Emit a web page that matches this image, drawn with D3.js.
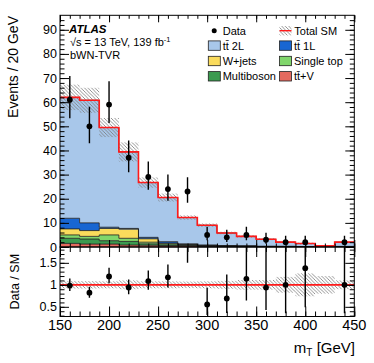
<!DOCTYPE html>
<html lang="en">
<head>
<meta charset="utf-8">
<title>bWN-TVR mT</title>
<script src="https://d3js.org/d3.v7.min.js"></script>
<style>
    body { margin: 0; background: white; }
    text { font-family: "Liberation Sans", Arial, Helvetica, sans-serif; fill: black; }
</style>
</head>
<body>
<script>

// ---- values ----
var binLow = [150, 170, 190, 210, 230, 250, 270, 290, 310, 330, 350, 370, 390, 410, 430];
var binWidth = 20;

var dataCounts  = [61, 50, 59, 37, 29, 24, 23, 5, 4, 5, 3, 2, 2, 0, 2];
var dataErrLow  = [53.3, 43.0, 51.4, 31.0, 23.7, 19.2, 18.3, 2.84, 2.09, 2.84, 1.37, 0.71, 0.71, 0, 0.71];
var dataErrHigh = [70.9, 58.1, 68.7, 44.1, 35.4, 30.0, 28.9, 8.38, 7.16, 8.38, 5.92, 4.64, 4.64, 0, 4.64];

var ttV        = [1.5, 1.2, 1.2, 0.8, 0.7, 0.5, 0.4, 0.3, 0.2, 0.2, 0.1, 0.1, 0.1, 0.05, 0.1];
var multiboson = [2.1, 2.1, 1.4, 1.5, 0.6, 0.3, 0.2, 0.1, 0.1, 0.05, 0.05, 0.05, 0.02, 0.02, 0.05];
var singleTop  = [1.4, 1.1, 2.4, 1.3, 0.7, 0.5, 0.3, 0.2, 0.1, 0.1, 0.05, 0.05, 0.03, 0.02, 0.05];
var wjets      = [2.5, 2.4, 2.7, 3.8, 1.4, 0.3, 0.2, 0.1, 0.1, 0.05, 0.05, 0.05, 0.02, 0.02, 0.02];
var tt1L       = [4.4, 3.2, 0.5, 0.3, 0.6, 0.6, 0.2, 0.1, 0.1, 0.05, 0.05, 0.02, 0.02, 0.01, 0.02];
var tt2L       = [50.1, 50.8, 41.3, 31.7, 22.7, 18.3, 10.9, 8.2, 5.2, 3.95, 2.9, 1.73, 1.26, 0.33, 1.76];

// relative uncertainty on total SM
var systRel = [0.085, 0.085, 0.08, 0.1, 0.08, 0.08, 0.075, 0.08, 0.09, 0.11, 0.11, 0.18, 0.26, 0.2, 0.1];

var xTickValues = [150, 200, 250, 300, 350, 400, 450];
var yTickValues = [0, 10, 20, 30, 40, 50, 60, 70, 80, 90];
var ratioTickValues = [0.5, 1, 1.5];

// ---- layout ----
var W = 374, H = 363;
var left = 60, right = 354.3;
var mainTop = 15.3, mainBottom = 247;
var ratioTop = 247, ratioBottom = 316.5;

var keys = ["ttV", "multiboson", "singleTop", "wjets", "tt1L", "tt2L"];
var colors = {
    tt2L: "#a8c7ea",
    tt1L: "#1866d2",
    wjets: "#fadb5c",
    singleTop: "#80d66b",
    multiboson: "#3b9a4f",
    ttV: "#e46a5f"
};

var table = binLow.map(function(b, i) {
    return { bin: b, ttV: ttV[i], multiboson: multiboson[i], singleTop: singleTop[i],
             wjets: wjets[i], tt1L: tt1L[i], tt2L: tt2L[i] };
});
var series = d3.stack().keys(keys)(table);
var totals = table.map(function(d) { return d3.sum(keys, function(k) { return d[k]; }); });

var svg = d3.select("body").append("svg")
    .attr("width", W)
    .attr("height", H);

var defs = svg.append("defs");
var hatch = defs.append("pattern")
    .attr("id", "hatch")
    .attr("patternUnits", "userSpaceOnUse")
    .attr("width", 3.5).attr("height", 3.5);
hatch.append("path")
    .attr("d", "M0,0 L3.5,3.5 M-1,2.5 L1,4.5 M2.5,-1 L4.5,1")
    .attr("stroke", "#7a7a7a")
    .attr("stroke-width", 0.8);

defs.append("clipPath").attr("id", "clipMain")
    .append("rect").attr("x", left).attr("y", mainTop)
    .attr("width", right - left).attr("height", mainBottom - mainTop);
defs.append("clipPath").attr("id", "clipRatio")
    .append("rect").attr("x", left).attr("y", ratioTop)
    .attr("width", right - left).attr("height", ratioBottom - ratioTop);

var x = d3.scaleLinear().domain([150, 450]).range([left, right]);
var y = d3.scaleLinear().domain([0, 96]).range([mainBottom, mainTop]);
var yr = d3.scaleLinear().domain([0.28, 1.86]).range([ratioBottom, ratioTop]);

// ---- main panel ----
var gMain = svg.append("g").attr("clip-path", "url(#clipMain)");

function stepPoints(vals) {
    var pts = binLow.map(function(b, i) { return [b, vals[i]]; });
    pts.push([binLow[binLow.length - 1] + binWidth, vals[vals.length - 1]]);
    return pts;
}

var area = d3.area()
    .curve(d3.curveStepAfter)
    .x(function(d) { return x(d[0]); })
    .y0(function(d) { return y(d[1]); })
    .y1(function(d) { return y(d[2]); });

var line = d3.line()
    .curve(d3.curveStepAfter)
    .x(function(d) { return x(d[0]); })
    .y(function(d) { return y(d[1]); });

series.forEach(function(s) {
    var pts = binLow.map(function(b, i) { return [b, s[i][0], s[i][1]]; });
    var last = s[s.length - 1];
    pts.push([binLow[binLow.length - 1] + binWidth, last[0], last[1]]);
    gMain.append("path")
        .attr("d", area(pts))
        .attr("fill", colors[s.key]);
});
series.forEach(function(s) {
    gMain.append("path")
        .attr("d", line(stepPoints(s.map(function(d) { return d[1]; }))))
        .attr("fill", "none")
        .attr("stroke", "#1a1a1a")
        .attr("stroke-width", 0.8);
});

// uncertainty band
gMain.selectAll("rect.band")
    .data(binLow)
    .enter().append("rect")
    .attr("class", "band")
    .attr("x", function(d) { return x(d); })
    .attr("width", function(d) { return x(d + binWidth) - x(d); })
    .attr("y", function(d, i) { return y(totals[i] * (1 + systRel[i])); })
    .attr("height", function(d, i) { return y(totals[i] * (1 - systRel[i])) - y(totals[i] * (1 + systRel[i])); })
    .attr("fill", "url(#hatch)");

gMain.append("path")
    .attr("d", line(stepPoints(totals)))
    .attr("fill", "none")
    .attr("stroke", "#ff1a1a")
    .attr("stroke-width", 1.6);

var pts = binLow.map(function(b, i) {
    return { x: b + binWidth / 2, n: dataCounts[i], lo: dataErrLow[i], hi: dataErrHigh[i], tot: totals[i] };
}).filter(function(d) { return d.n > 0; });

gMain.selectAll("line.err")
    .data(pts)
    .enter().append("line")
    .attr("x1", function(d) { return x(d.x); })
    .attr("x2", function(d) { return x(d.x); })
    .attr("y1", function(d) { return y(d.lo); })
    .attr("y2", function(d) { return y(d.hi); })
    .attr("stroke", "black")
    .attr("stroke-width", 1.4);

gMain.selectAll("circle")
    .data(pts)
    .enter().append("circle")
    .attr("cx", function(d) { return x(d.x); })
    .attr("cy", function(d) { return y(d.n); })
    .attr("r", 2.9)
    .attr("fill", "black");

// ---- ratio panel ----
var gRatio = svg.append("g").attr("clip-path", "url(#clipRatio)");

gRatio.selectAll("rect.band")
    .data(binLow)
    .enter().append("rect")
    .attr("x", function(d) { return x(d); })
    .attr("width", function(d) { return x(d + binWidth) - x(d); })
    .attr("y", function(d, i) { return yr(1 + systRel[i]); })
    .attr("height", function(d, i) { return yr(1 - systRel[i]) - yr(1 + systRel[i]); })
    .attr("fill", "url(#hatch)");

gRatio.append("line")
    .attr("x1", left).attr("x2", right)
    .attr("y1", yr(1)).attr("y2", yr(1))
    .attr("stroke", "#ff1a1a")
    .attr("stroke-width", 1.8);

gRatio.selectAll("line.err")
    .data(pts)
    .enter().append("line")
    .attr("x1", function(d) { return x(d.x); })
    .attr("x2", function(d) { return x(d.x); })
    .attr("y1", function(d) { return yr(d.lo / d.tot); })
    .attr("y2", function(d) { return yr(d.hi / d.tot); })
    .attr("stroke", "black")
    .attr("stroke-width", 1.4);

gRatio.selectAll("circle")
    .data(pts.filter(function(d) { return d.n / d.tot < yr.domain()[1]; }))
    .enter().append("circle")
    .attr("cx", function(d) { return x(d.x); })
    .attr("cy", function(d) { return yr(d.n / d.tot); })
    .attr("r", 2.9)
    .attr("fill", "black");

// ---- axes / ticks ----
function noDomain(g) { g.select(".domain").remove(); g.selectAll("line").attr("stroke", "black"); }

function xTicks(yPos, axisFn, major, minor) {
    svg.append("g").attr("transform", "translate(0," + yPos + ")")
        .call(axisFn(x).tickValues(d3.range(150, 451, 10)).tickSize(minor).tickFormat(""))
        .call(noDomain);
    svg.append("g").attr("transform", "translate(0," + yPos + ")")
        .call(axisFn(x).tickValues(xTickValues).tickSize(major).tickFormat(""))
        .call(noDomain);
}
function yTicks(scale, xPos, axisFn, minorVals, majorVals, major, minor) {
    svg.append("g").attr("transform", "translate(" + xPos + ",0)")
        .call(axisFn(scale).tickValues(minorVals).tickSize(minor).tickFormat(""))
        .call(noDomain);
    svg.append("g").attr("transform", "translate(" + xPos + ",0)")
        .call(axisFn(scale).tickValues(majorVals).tickSize(major).tickFormat(""))
        .call(noDomain);
}

xTicks(mainTop, d3.axisBottom, 7, 3.5);
xTicks(mainBottom, d3.axisTop, 7, 3.5);
xTicks(ratioTop, d3.axisBottom, 10, 5);
xTicks(ratioBottom, d3.axisTop, 10, 5);

var yMinor = d3.range(0, 96, 2);
yTicks(y, left, d3.axisRight, yMinor, yTickValues, 9, 4.5);
yTicks(y, right, d3.axisLeft, yMinor, yTickValues, 9, 4.5);
var rMinor = d3.range(3, 19).map(function(v) { return v / 10; });
yTicks(yr, left, d3.axisRight, rMinor, ratioTickValues, 9, 4.5);
yTicks(yr, right, d3.axisLeft, rMinor, ratioTickValues, 9, 4.5);

// frames
[[mainTop, mainBottom], [ratioTop, ratioBottom]].forEach(function(f) {
    svg.append("rect")
        .attr("x", left).attr("y", f[0])
        .attr("width", right - left).attr("height", f[1] - f[0])
        .attr("fill", "none").attr("stroke", "black").attr("stroke-width", 1);
});

// tick labels
svg.selectAll("text.ylab")
    .data(yTickValues)
    .enter().append("text")
    .attr("x", 57).attr("y", function(d) { return y(d); })
    .attr("dy", "0.36em")
    .attr("text-anchor", "end")
    .attr("font-size", 12.5)
    .text(function(d) { return d; });

svg.selectAll("text.rlab")
    .data(ratioTickValues)
    .enter().append("text")
    .attr("x", 57).attr("y", function(d) { return yr(d); })
    .attr("dy", "0.36em")
    .attr("text-anchor", "end")
    .attr("font-size", 12.5)
    .text(function(d) { return d; });

svg.selectAll("text.xlab")
    .data(xTickValues)
    .enter().append("text")
    .attr("x", function(d) { return x(d); }).attr("y", 330)
    .attr("text-anchor", "middle")
    .attr("font-size", 14.5)
    .text(function(d) { return d; });

// axis titles
svg.append("text")
    .attr("transform", "translate(18,16) rotate(-90)")
    .attr("text-anchor", "end")
    .attr("font-size", 14)
    .text("Events / 20 GeV");

svg.append("text")
    .attr("transform", "translate(19," + (ratioTop + ratioBottom) / 2 + ") rotate(-90)")
    .attr("text-anchor", "middle")
    .attr("font-size", 12.5)
    .text("Data / SM");

var xt = svg.append("text")
    .attr("x", 355).attr("y", 353)
    .attr("text-anchor", "end")
    .attr("font-size", 15);
xt.append("tspan").text("m");
xt.append("tspan").attr("font-size", 10).attr("dy", 3).text("T");
xt.append("tspan").attr("dy", -3).text(" [GeV]");

// ATLAS label
svg.append("text")
    .attr("x", 69).attr("y", 33)
    .attr("font-size", 11.5)
    .attr("font-weight", "bold")
    .attr("font-style", "italic")
    .text("ATLAS");
var lumi = svg.append("text")
    .attr("x", 70).attr("y", 45.5)
    .attr("font-size", 11);
lumi.append("tspan").text("\u221As = 13 TeV, 139 fb");
lumi.append("tspan").attr("font-size", 7.5).attr("dy", -4).text("-1");
svg.append("text")
    .attr("x", 70).attr("y", 58.5)
    .attr("font-size", 11)
    .text("bWN-TVR");

// ---- legend ----
var legendLabels = ["tt\u0304 2L", "tt\u0304 1L", "W+jets", "Single top", "Multiboson", "tt\u0304+V"];
var legendKeys = ["tt2L", "tt1L", "wjets", "singleTop", "multiboson", "ttV"];
var rowY = [30.7, 45.6, 61, 76.3];
var colX = [208.3, 279.5];

var lg = svg.append("g");
lg.append("circle").attr("cx", 214.2).attr("cy", rowY[0]).attr("r", 2.5).attr("fill", "black");
lg.append("text").attr("x", 222.7).attr("y", rowY[0] + 4).attr("font-size", 11).text("Data");
lg.append("rect").attr("x", colX[1]).attr("y", rowY[0] - 4.7)
    .attr("width", 12).attr("height", 9.4).attr("fill", "url(#hatch)");
lg.append("line").attr("x1", colX[1]).attr("x2", colX[1] + 12)
    .attr("y1", rowY[0]).attr("y2", rowY[0])
    .attr("stroke", "#ff1a1a").attr("stroke-width", 1.4);
lg.append("text").attr("x", 294.3).attr("y", rowY[0] + 4).attr("font-size", 11).text("Total SM");

legendKeys.forEach(function(k, i) {
    var cx = colX[i % 2], cy = rowY[1 + Math.floor(i / 2)];
    lg.append("rect")
        .attr("x", cx).attr("y", cy - 4.7)
        .attr("width", 12).attr("height", 9.4)
        .attr("fill", colors[k])
        .attr("stroke", "#222").attr("stroke-width", 0.8);
    lg.append("text")
        .attr("x", cx + 14.4).attr("y", cy + 4)
        .attr("font-size", 11)
        .text(legendLabels[i]);
});

</script>
</body>
</html>
